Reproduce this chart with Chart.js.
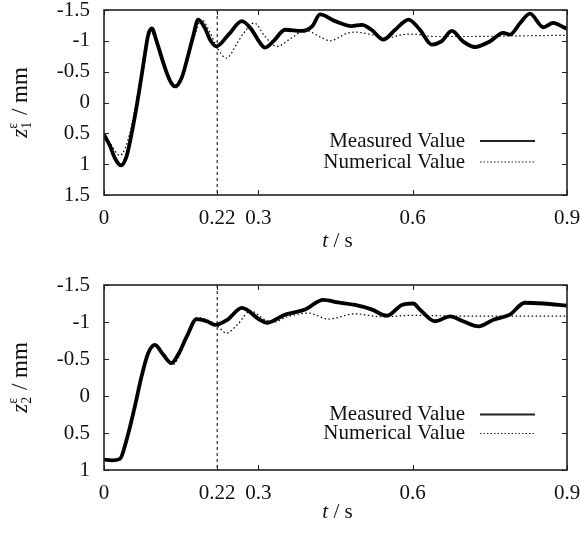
<!DOCTYPE html>
<html>
<head>
<meta charset="utf-8">
<script src="https://cdn.jsdelivr.net/npm/chart.js@4.4.0/dist/chart.umd.min.js"></script>
<style>
  html, body { margin: 0; padding: 0; background: #fff; }
  #wrap { position: relative; width: 580px; height: 536px; }
  .panel { position: absolute; left: 0; width: 580px; height: 268px; }
</style>
</head>
<body>
<div id="wrap">
  <div class="panel" style="top:0"><canvas id="c1" width="580" height="268"></canvas></div>
  <div class="panel" style="top:268px"><canvas id="c2" width="580" height="268"></canvas></div>
</div>
<script>
// --- data ---
const xTicks = [0, 0.22, 0.3, 0.6, 0.9];
const markerTime = 0.22;
const yTicksTop = [-1.5, -1, -0.5, 0, 0.5, 1, 1.5];
const yTicksBottom = [-1.5, -1, -0.5, 0, 0.5, 1];

// z1 (top panel)
const t1Measured = [0, 0.012, 0.021, 0.033, 0.044, 0.054, 0.0635, 0.073, 0.08, 0.086, 0.093, 0.102, 0.115, 0.128,
  0.138, 0.151, 0.164, 0.174, 0.183, 0.196, 0.206, 0.218, 0.242, 0.268, 0.287, 0.303, 0.313, 0.33, 0.352, 0.384,
  0.405, 0.42, 0.449, 0.481, 0.501, 0.52, 0.543, 0.566, 0.592, 0.614, 0.637, 0.656, 0.676, 0.698, 0.721, 0.75,
  0.776, 0.789, 0.809, 0.828, 0.854, 0.873, 0.896, 0.9];
const z1Measured = [0.52, 0.71, 0.90, 1.02, 0.87, 0.49, 0.06, -0.43, -0.81, -1.10, -1.2, -1.0, -0.65, -0.36,
  -0.26, -0.40, -0.78, -1.10, -1.345, -1.21, -1.02, -0.91, -1.10, -1.32, -1.18, -0.97, -0.89, -1.0, -1.18, -1.16,
  -1.24, -1.43, -1.32, -1.24, -1.26, -1.18, -1.02, -1.18, -1.345, -1.18, -0.94, -0.99, -1.16, -0.99, -0.90, -0.99,
  -1.13, -1.10, -1.29, -1.44, -1.22, -1.29, -1.21, -1.2];
const t1Numerical = [0, 0.012, 0.031, 0.0505, 0.0635, 0.0765, 0.091, 0.105, 0.12, 0.14, 0.16, 0.175, 0.19, 0.205,
  0.222, 0.238, 0.26, 0.272, 0.292, 0.313, 0.336, 0.365, 0.391, 0.423, 0.439, 0.475, 0.49, 0.52, 0.553, 0.579, 0.6,
  0.64, 0.7, 0.8, 0.9];
const z1Numerical = [0.52, 0.66, 0.86, 0.49, -0.05, -0.64, -1.13, -0.95, -0.55, -0.24, -0.6, -1.05, -1.345, -1.15,
  -0.86, -0.72, -0.98, -1.13, -1.29, -1.07, -0.91, -1.05, -1.17, -1.05, -1.0, -1.13, -1.14, -1.10, -1.05, -1.10,
  -1.11, -1.07, -1.07, -1.08, -1.09];

// z2 (bottom panel)
const t2Measured = [0, 0.015, 0.031, 0.044, 0.06, 0.073, 0.086, 0.099, 0.115, 0.131, 0.145, 0.161, 0.18, 0.2, 0.216,
  0.24, 0.268, 0.303, 0.316, 0.352, 0.391, 0.426, 0.455, 0.488, 0.52, 0.55, 0.579, 0.601, 0.614, 0.643, 0.673,
  0.698, 0.728, 0.757, 0.789, 0.818, 0.854, 0.9];
const z2Measured = [0.86, 0.87, 0.85, 0.59, 0.14, -0.265, -0.58, -0.69, -0.56, -0.445, -0.57, -0.805, -1.04, -1.01,
  -0.96, -1.03, -1.19, -1.03, -0.99, -1.10, -1.17, -1.30, -1.265, -1.23, -1.17, -1.085, -1.23, -1.25, -1.17, -1.01,
  -1.075, -1.01, -0.94, -1.03, -1.10, -1.26, -1.25, -1.22];
const t2Numerical = [0, 0.031, 0.044, 0.06, 0.073, 0.086, 0.099, 0.115, 0.133, 0.145, 0.161, 0.18, 0.2, 0.22, 0.238,
  0.26, 0.285, 0.313, 0.33, 0.358, 0.397, 0.436, 0.488, 0.54, 0.6, 0.7, 0.8, 0.9];
const z2Numerical = [0.86, 0.85, 0.6, 0.14, -0.26, -0.57, -0.68, -0.57, -0.42, -0.52, -0.8, -1.06, -1.03, -0.95,
  -0.85, -0.97, -1.15, -1.03, -1.0, -1.075, -1.12, -1.04, -1.11, -1.07, -1.09, -1.08, -1.08, -1.08];

const seriesNames = ['Measured Value', 'Numerical Value'];

// --- drawing ---
const FONT = 'Liberation Serif, Times New Roman, serif';
const INK = '#111';
const TXT = 21;

function toPoints(ts, zs) {
    return ts.map((t, i) => ({ x: t, y: zs[i] }));
}

function fmt(v) {
    return String(Math.round(v * 100) / 100);
}

// frame, inward ticks, marker line, legend and axis titles in gnuplot style
const gnuplotFrame = {
    id: 'gnuplotFrame',
    afterDraw(chart, args, o) {
        const { ctx, chartArea: a, scales: { x, y } } = chart;
        ctx.save();

        // dashed marker at t = 0.22
        const mx = x.getPixelForValue(markerTime);
        ctx.strokeStyle = '#000';
        ctx.lineWidth = 1;
        ctx.setLineDash([3, 3]);
        ctx.beginPath();
        ctx.moveTo(mx, a.top);
        ctx.lineTo(mx, a.bottom);
        ctx.stroke();
        ctx.setLineDash([]);

        // inward ticks on all four sides
        ctx.strokeStyle = '#222';
        ctx.beginPath();
        x.ticks.forEach(t => {
            const px = Math.round(x.getPixelForValue(t.value)) + 0.5;
            ctx.moveTo(px, a.bottom); ctx.lineTo(px, a.bottom - 5);
            ctx.moveTo(px, a.top); ctx.lineTo(px, a.top + 5);
        });
        y.ticks.forEach(t => {
            const py = Math.round(y.getPixelForValue(t.value)) + 0.5;
            ctx.moveTo(a.left, py); ctx.lineTo(a.left + 5, py);
            ctx.moveTo(a.right, py); ctx.lineTo(a.right - 5, py);
        });
        ctx.stroke();

        // frame
        ctx.lineWidth = 1.6;
        ctx.strokeRect(a.left, a.top, a.right - a.left, a.bottom - a.top);

        // legend, bottom right inside the plot
        ctx.fillStyle = INK;
        ctx.font = TXT + 'px ' + FONT;
        ctx.textAlign = 'right';
        ctx.textBaseline = 'middle';
        const tx = a.right - 102, l0 = a.right - 87, l1 = a.right - 32;
        o.legendRows.forEach((dy, i) => {
            const ly = a.bottom - dy;
            ctx.fillText(seriesNames[i], tx, ly);
            ctx.beginPath();
            if (i === 0) { ctx.lineWidth = 2; ctx.setLineDash([]); }
            else { ctx.lineWidth = 1.2; ctx.setLineDash([1.5, 2]); }
            ctx.moveTo(l0, ly); ctx.lineTo(l1, ly);
            ctx.stroke();
        });
        ctx.setLineDash([]);

        // x title: "t / s"
        const cx = (a.left + a.right) / 2 + 2;
        const by = a.bottom + o.xTitleDrop;
        ctx.textBaseline = 'alphabetic';
        ctx.textAlign = 'left';
        ctx.font = 'italic ' + TXT + 'px ' + FONT;
        const wt = ctx.measureText('t').width;
        ctx.font = TXT + 'px ' + FONT;
        const ws = ctx.measureText(' / s').width;
        const sx = cx - (wt + ws) / 2;
        ctx.font = 'italic ' + TXT + 'px ' + FONT;
        ctx.fillText('t', sx, by);
        ctx.font = TXT + 'px ' + FONT;
        ctx.fillText(' / s', sx + wt, by);

        // y title: z with stacked sub/superscript, rotated
        ctx.translate(27, (a.top + a.bottom) / 2);
        ctx.rotate(-Math.PI / 2);
        ctx.font = 'italic 23px ' + FONT;
        const wz = ctx.measureText('z').width;
        ctx.font = '14px ' + FONT;
        const wsub = Math.max(ctx.measureText(o.sub).width, ctx.measureText('\u03b5').width) + 1;
        ctx.font = '23px ' + FONT;
        const wrest = ctx.measureText(' / mm').width;
        let u = -(wz + wsub + wrest) / 2;
        ctx.font = 'italic 23px ' + FONT;
        ctx.fillText('z', u, 0);
        u += wz;
        ctx.font = '14px ' + FONT;
        ctx.fillText('\u03b5', u, -10);
        ctx.fillText(o.sub, u, 4);
        u += wsub;
        ctx.font = '23px ' + FONT;
        ctx.fillText(' / mm', u, 0);

        ctx.restore();
    }
};

function makePanel(canvasId, p) {
    const tickFont = { family: FONT, size: TXT };
    return new Chart(document.getElementById(canvasId), {
        type: 'line',
        data: {
            datasets: [
                {
                    label: seriesNames[0], data: toPoints(p.tMeas, p.zMeas),
                    borderColor: '#000', borderWidth: 3.8, pointRadius: 0,
                    cubicInterpolationMode: 'monotone', order: 0
                },
                {
                    label: seriesNames[1], data: toPoints(p.tNum, p.zNum),
                    borderColor: '#000', borderWidth: 1.2, borderDash: [1.5, 2.5], pointRadius: 0,
                    cubicInterpolationMode: 'monotone', order: 1
                }
            ]
        },
        options: {
            responsive: false,
            animation: false,
            devicePixelRatio: 1,
            layout: { padding: { top: p.padTop, right: 13, left: 0, bottom: 0 } },
            plugins: {
                legend: { display: false },
                tooltip: { enabled: false },
                gnuplotFrame: { legendRows: p.legendRows, xTitleDrop: p.xTitleDrop, sub: p.sub }
            },
            scales: {
                x: {
                    type: 'linear', min: 0, max: 0.9,
                    grid: { display: false, drawTicks: false },
                    border: { display: false },
                    ticks: { font: tickFont, color: INK, padding: 11, autoSkip: false, maxRotation: 0, callback: fmt },
                    afterBuildTicks: s => { s.ticks = xTicks.map(v => ({ value: v })); },
                    afterFit: s => { s.height = p.xAxisHeight; s.paddingLeft = 0; s.paddingRight = 0; }
                },
                y: {
                    type: 'linear', reverse: true, min: -1.5, max: p.yMax,
                    grid: { display: false, drawTicks: false },
                    border: { display: false },
                    ticks: { font: tickFont, color: INK, padding: 14, autoSkip: false, callback: fmt },
                    afterBuildTicks: s => { s.ticks = p.yTicks.map(v => ({ value: v })); },
                    afterFit: s => { s.width = 104; s.paddingTop = 0; s.paddingBottom = 0; }
                }
            }
        },
        plugins: [gnuplotFrame]
    });
}

makePanel('c1', {
    tMeas: t1Measured, zMeas: z1Measured, tNum: t1Numerical, zNum: z1Numerical,
    yMax: 1.5, yTicks: yTicksTop, sub: '1',
    padTop: 10, xAxisHeight: 73, legendRows: [54, 33], xTitleDrop: 52
});
makePanel('c2', {
    tMeas: t2Measured, zMeas: z2Measured, tNum: t2Numerical, zNum: z2Numerical,
    yMax: 1, yTicks: yTicksBottom, sub: '2',
    padTop: 17, xAxisHeight: 66, legendRows: [55.5, 36.5], xTitleDrop: 47.5
});
</script>
</body>
</html>
